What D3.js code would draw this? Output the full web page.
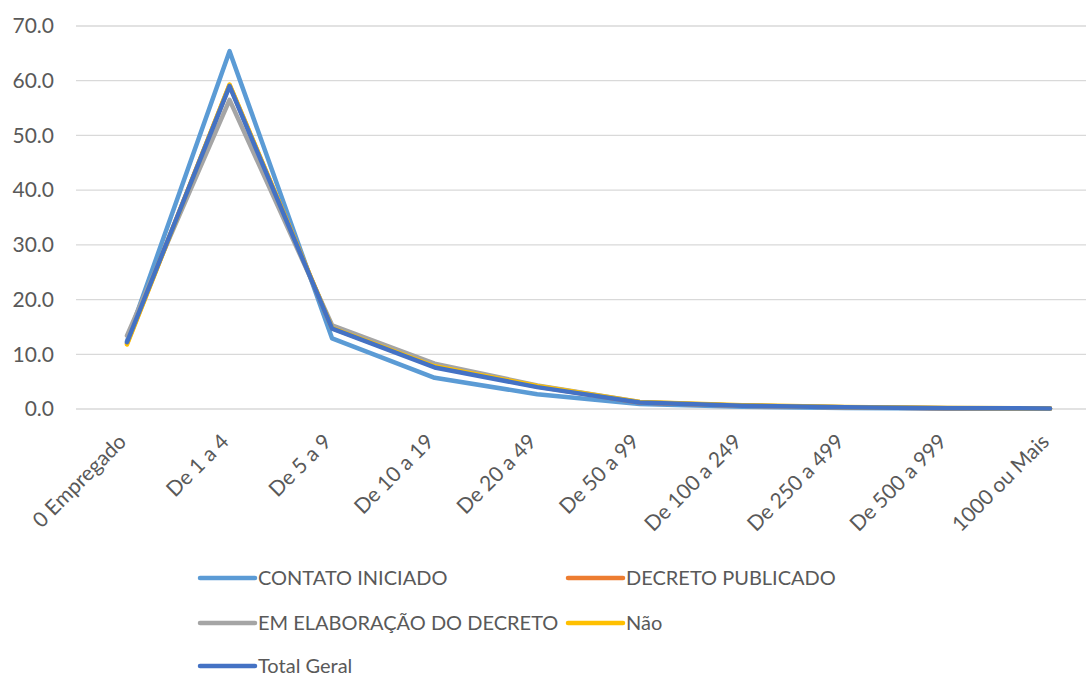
<!DOCTYPE html>
<html>
<head>
<meta charset="utf-8">
<script src="https://cdn.jsdelivr.net/npm/d3@7"></script>
<style>
  body { margin: 0; background: #fff; }
  text { font-family: Lato, "Open Sans", sans-serif; fill: #595959; }
</style>
</head>
<body>
<svg width="1086" height="677"></svg>
<script>
var categories = ["0 Empregado", "De 1 a 4", "De 5 a 9", "De 10 a 19", "De 20 a 49",
    "De 50 a 99", "De 100 a 249", "De 250 a 499", "De 500 a 999", "1000 ou Mais"];

var contatoIniciado = [12.4, 65.4, 12.9, 5.7, 2.7, 0.9, 0.4, 0.2, 0.1, 0.05];
var decretoPublicado = [12.0, 59.2, 14.8, 7.9, 4.1, 1.2, 0.6, 0.3, 0.15, 0.1];
var emElaboracao = [13.4, 56.5, 15.3, 8.3, 4.3, 1.3, 0.6, 0.3, 0.2, 0.1];
var nao = [11.8, 59.3, 14.8, 7.8, 4.2, 1.3, 0.7, 0.35, 0.2, 0.1];
var totalGeral = [12.2, 59.0, 14.7, 7.6, 4.0, 1.2, 0.6, 0.3, 0.15, 0.1];

var seriesNames = ["CONTATO INICIADO", "DECRETO PUBLICADO", "EM ELABORAÇÃO DO DECRETO", "Não", "Total Geral"];
var seriesColors = ["#5B9BD5", "#ED7D31", "#A5A5A5", "#FFC000", "#4472C4"];
var yTicks = [0, 10, 20, 30, 40, 50, 60, 70];

var series = [contatoIniciado, decretoPublicado, emElaboracao, nao, totalGeral];

var svg = d3.select("svg");

var plotLeft = 76, plotRight = 1086;
var y = d3.scaleLinear().domain([0, 70]).range([409, 26]);
var x = d3.scalePoint().domain(categories).range([127, 1050]);

// gridlines
svg.append("g")
    .selectAll("line")
    .data(yTicks)
    .enter().append("line")
    .attr("x1", plotLeft)
    .attr("x2", plotRight)
    .attr("y1", function(d) { return y(d); })
    .attr("y2", function(d) { return y(d); })
    .attr("stroke", "#d9d9d9")
    .attr("stroke-width", 1.3);

// y axis labels
var yAxis = svg.append("g")
    .attr("transform", "translate(" + plotLeft + ",0)")
    .call(d3.axisLeft(y).tickValues(yTicks).tickSize(0).tickPadding(22).tickFormat(d3.format(".1f")));
yAxis.select(".domain").remove();
yAxis.selectAll("text").style("font-size", "21px").attr("fill", "#595959");

// x axis labels
var xAxis = svg.append("g")
    .attr("transform", "translate(0,409)")
    .call(d3.axisBottom(x).tickSize(0).tickPadding(0));
xAxis.select(".domain").remove();
xAxis.selectAll("text")
    .style("font-size", "21px")
    .attr("fill", "#595959")
    .attr("text-anchor", "end")
    .attr("dy", "0")
    .attr("transform", "translate(0,34) rotate(-45)");

// lines
var line = d3.line()
    .x(function(d, i) { return x(categories[i]); })
    .y(function(d) { return y(d); });

svg.append("g")
    .selectAll("path")
    .data(series)
    .enter().append("path")
    .attr("d", line)
    .attr("fill", "none")
    .attr("stroke", function(d, i) { return seriesColors[i]; })
    .attr("stroke-width", 4.5)
    .attr("stroke-linejoin", "round")
    .attr("stroke-linecap", "round");

// legend
var legendPos = [[200, 578], [568, 578], [200, 623], [568, 623], [200, 666]];
var legend = svg.append("g")
    .selectAll("g")
    .data(seriesNames)
    .enter().append("g")
    .attr("transform", function(d, i) { return "translate(" + legendPos[i][0] + "," + legendPos[i][1] + ")"; });
legend.append("line")
    .attr("x1", 0).attr("x2", 55)
    .attr("stroke", function(d, i) { return seriesColors[i]; })
    .attr("stroke-width", 4.5)
    .attr("stroke-linecap", "round");
legend.append("text")
    .attr("x", 58)
    .attr("dy", "0.35em")
    .style("font-size", "20px")
    .text(function(d) { return d; });
</script>
</body>
</html>
